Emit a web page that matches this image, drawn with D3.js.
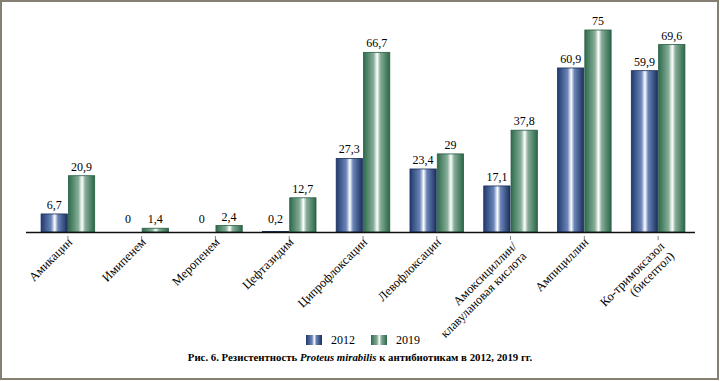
<!DOCTYPE html>
<html><head><meta charset="utf-8">
<script src="https://cdn.jsdelivr.net/npm/d3@7"></script>
<style>
html,body{margin:0;padding:0;background:#fff;}
svg text{font-family:'Liberation Serif','Tinos','Times New Roman','DejaVu Serif',serif;}
</style></head>
<body>
<svg id="c" width="720" height="381"></svg>
<script>
const categories = [
  ["Амикацин"],
  ["Имипенем"],
  ["Меропенем"],
  ["Цефтазидим"],
  ["Ципрофлоксацин"],
  ["Левофлоксацин"],
  ["Амоксициллин/", "клавулановая кислота"],
  ["Ампициллин"],
  ["Ко-тримоксазол", "(бисептол)"]
];
const seriesNames = ["2012", "2019"];
const values2012 = [6.7, 0, 0, 0.2, 27.3, 23.4, 17.1, 60.9, 59.9];
const values2019 = [20.9, 1.4, 2.4, 12.7, 66.7, 29, 37.8, 75, 69.6];
const labels2012 = ["6,7", "0", "0", "0,2", "27,3", "23,4", "17,1", "60,9", "59,9"];
const labels2019 = ["20,9", "1,4", "2,4", "12,7", "66,7", "29", "37,8", "75", "69,6"];

const FONT = "Liberation Serif, Tinos, Times New Roman, DejaVu Serif, serif";
const svg = d3.select("#c");
const defs = svg.append("defs");
function grad(id, edgeL, mid, edgeR) {
  const g = defs.append("linearGradient").attr("id", id).attr("x1", "0").attr("x2", "1").attr("y1", "0").attr("y2", "0");
  [[0, edgeL], [0.38, mid], [0.52, "#ffffff"], [0.64, mid], [1, edgeR]].forEach(([o, c]) =>
    g.append("stop").attr("offset", o).attr("stop-color", c));
}
grad("gBlue", "#213a70", "#6a85b8", "#1b2f5e");
grad("gGreen", "#2f6b4d", "#86ad98", "#2b6648");
const fills = ["url(#gBlue)", "url(#gGreen)"];
const strokes = ["#1a2e5a", "#285e43"];

// frame
svg.append("rect").attr("x", 1).attr("y", 1).attr("width", 717).attr("height", 378)
  .attr("fill", "none").attr("stroke", "#857f74").attr("stroke-width", 2);

const keys = categories.map(c => c.join(" "));
const x0 = d3.scaleBand().domain(keys).range([31, 695]).paddingInner(0.26).paddingOuter(0.13);
const x1 = d3.scaleBand().domain(seriesNames).range([0, x0.bandwidth()]);
const y = d3.scaleLinear().domain([0, 75]).range([232, 30]);

const data = keys.map((k, i) => ({k, vals: [
  {s: 0, v: values2012[i], l: labels2012[i]},
  {s: 1, v: values2019[i], l: labels2019[i]}
]}));

const g = svg.append("g").selectAll("g").data(data).join("g")
  .attr("transform", d => `translate(${x0(d.k)},0)`);
g.selectAll("rect").data(d => d.vals).join("rect")
  .attr("x", d => x1(seriesNames[d.s]) + 0.5)
  .attr("width", x1.bandwidth() - 1)
  .attr("y", d => y(d.v))
  .attr("height", d => y(0) - y(d.v))
  .attr("fill", d => fills[d.s])
  .attr("stroke", d => d.v > 0 ? strokes[d.s] : "none")
  .attr("stroke-width", 0.8);
g.selectAll("text").data(d => d.vals).join("text")
  .attr("x", d => x1(seriesNames[d.s]) + x1.bandwidth() / 2)
  .attr("y", d => Math.min(y(d.v) - 5, 223))
  .attr("text-anchor", "middle")
  .attr("font-family", FONT)
  .attr("font-size", 12)
  .attr("fill", "#000")
  .text(d => d.l);

// axis
const axisG = svg.append("g").attr("transform", "translate(0,236)")
  .call(d3.axisBottom(x0).tickSize(4).tickFormat(""));
axisG.select(".domain").remove();
axisG.selectAll(".tick line").attr("stroke", "#666").attr("stroke-width", 0.8);
svg.append("line").attr("x1", 26).attr("x2", 695).attr("y1", 232.5).attr("y2", 232.5)
  .attr("stroke", "#111").attr("stroke-width", 1.5);

// category labels
const lab = svg.append("g").selectAll("text").data(categories).join("text")
  .attr("transform", (d, i) => `translate(${x0(keys[i]) + x0.bandwidth() / 2 + 5 + (d.length > 1 ? 2 : 0)},${243 + (d.length > 1 ? 4 : 0)}) rotate(-45)`)
  .attr("text-anchor", "end")
  .attr("font-family", FONT)
  .attr("font-size", 12.5)
  .attr("fill", "#000");
lab.selectAll("tspan").data(d => d).join("tspan")
  .attr("x", 0)
  .attr("dy", (d, i) => i === 0 ? 0 : "1.1em")
  .text(d => d);

// legend
const leg = svg.append("g");
const legX = [306, 371];
seriesNames.forEach((s, i) => {
  leg.append("rect").attr("x", legX[i]).attr("y", 335).attr("width", 16).attr("height", 10)
    .attr("fill", fills[i]);
  leg.append("text").attr("x", legX[i] + 25).attr("y", 344)
    .attr("font-family", FONT).attr("font-size", 12)
    .attr("fill", "#000").text(s);
});

// caption
const cap = svg.append("text").attr("x", 360).attr("y", 361).attr("text-anchor", "middle")
  .attr("font-family", FONT)
  .attr("font-size", 10.8).attr("font-weight", "bold").attr("fill", "#000");
cap.append("tspan").text("Рис. 6. Резистентность ");
cap.append("tspan").attr("font-style", "italic").text("Proteus mirabilis");
cap.append("tspan").text(" к антибиотикам в 2012, 2019 гг.");
</script>
</body></html>
